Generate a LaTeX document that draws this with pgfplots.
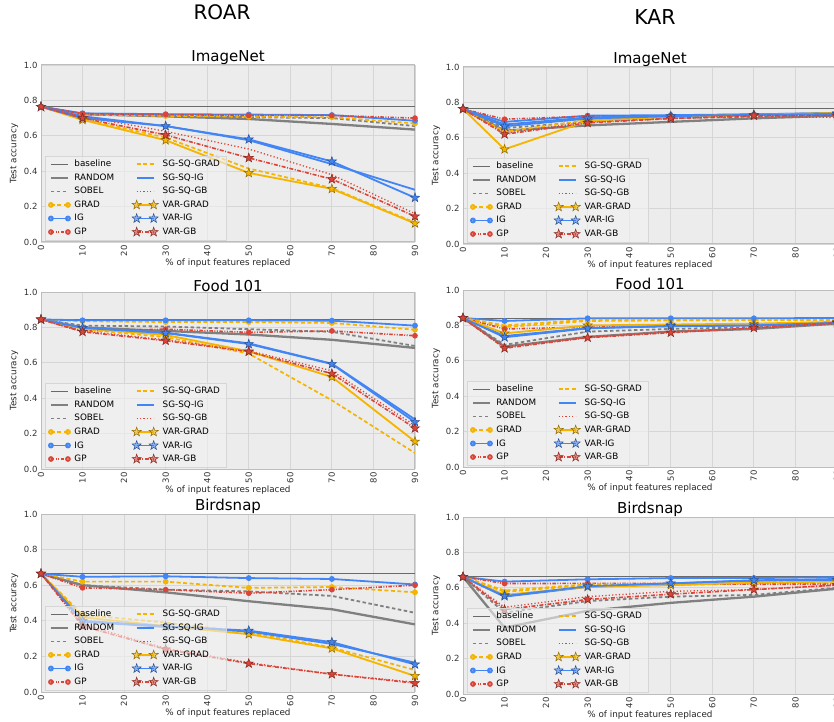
\documentclass[border=0pt]{standalone}
\usepackage{fontspec}
\setmainfont{DejaVu Sans}
\usepackage{pgfplots}
\usepackage{pgfplotstable}
\pgfplotsset{compat=1.18}
\usetikzlibrary{plotmarks}
\definecolor{yc}{HTML}{F4B400}
\definecolor{bc}{HTML}{4285F4}
\definecolor{rc}{HTML}{DB4437}
\definecolor{gc}{HTML}{808080}
\definecolor{basec}{HTML}{6A6A6A}
\definecolor{bgc}{HTML}{ECECEC}
\definecolor{gridc}{HTML}{D6D6D6}
\definecolor{framec}{HTML}{BDBDBD}

\pgfdeclareplotmark{fstar}{%
  \pgfpathmoveto{\pgfqpointpolar{90}{\pgfplotmarksize}}%
  \pgfpathlineto{\pgfqpointpolar{126}{0.4\pgfplotmarksize}}%
  \pgfpathlineto{\pgfqpointpolar{162}{\pgfplotmarksize}}%
  \pgfpathlineto{\pgfqpointpolar{198}{0.4\pgfplotmarksize}}%
  \pgfpathlineto{\pgfqpointpolar{234}{\pgfplotmarksize}}%
  \pgfpathlineto{\pgfqpointpolar{270}{0.4\pgfplotmarksize}}%
  \pgfpathlineto{\pgfqpointpolar{306}{\pgfplotmarksize}}%
  \pgfpathlineto{\pgfqpointpolar{342}{0.4\pgfplotmarksize}}%
  \pgfpathlineto{\pgfqpointpolar{18}{\pgfplotmarksize}}%
  \pgfpathlineto{\pgfqpointpolar{54}{0.4\pgfplotmarksize}}%
  \pgfpathclose
  \pgfusepathqfillstroke}

\pgfplotstableread{
x base rand sobel grad ig gp sggrad sgig sggb vgrad vig vgb
0 0.764 0.764 0.764 0.764 0.764 0.764 0.764 0.764 0.764 0.764 0.764 0.764
10 0.764 0.722 0.720 0.720 0.727 0.725 0.695 0.710 0.710 0.690 0.700 0.700
30 0.764 0.710 0.715 0.712 0.722 0.720 0.590 0.655 0.625 0.575 0.655 0.605
50 0.764 0.695 0.705 0.708 0.720 0.715 0.415 0.575 0.525 0.390 0.580 0.475
70 0.764 0.667 0.700 0.705 0.717 0.715 0.305 0.440 0.380 0.300 0.455 0.355
90 0.764 0.635 0.655 0.670 0.685 0.700 0.110 0.295 0.160 0.105 0.250 0.145
}\inr
\pgfplotstableread{
x base rand sobel grad ig gp sggrad sgig sggb vgrad vig vgb
0 0.763 0.763 0.763 0.763 0.763 0.763 0.763 0.763 0.763 0.763 0.763 0.763
10 0.763 0.640 0.655 0.635 0.690 0.705 0.675 0.675 0.625 0.535 0.665 0.620
30 0.763 0.670 0.690 0.700 0.725 0.722 0.705 0.715 0.690 0.695 0.709 0.684
50 0.763 0.690 0.710 0.718 0.728 0.722 0.720 0.725 0.710 0.720 0.722 0.709
70 0.763 0.710 0.720 0.728 0.733 0.728 0.730 0.732 0.720 0.730 0.730 0.725
90 0.763 0.725 0.730 0.735 0.740 0.730 0.738 0.740 0.715 0.740 0.735 0.725
}\ink
\pgfplotstableread{
x base rand sobel grad ig gp sggrad sgig sggb vgrad vig vgb
0 0.845 0.845 0.845 0.845 0.845 0.845 0.845 0.845 0.845 0.845 0.845 0.845
10 0.845 0.800 0.810 0.835 0.840 0.780 0.790 0.800 0.780 0.795 0.797 0.775
30 0.845 0.780 0.805 0.830 0.840 0.790 0.745 0.770 0.730 0.757 0.768 0.725
50 0.845 0.760 0.790 0.830 0.840 0.772 0.652 0.710 0.668 0.665 0.706 0.663
70 0.845 0.730 0.775 0.825 0.838 0.780 0.388 0.595 0.555 0.520 0.593 0.539
90 0.845 0.684 0.695 0.787 0.810 0.753 0.090 0.280 0.245 0.155 0.265 0.230
}\fdr
\pgfplotstableread{
x base rand sobel grad ig gp sggrad sgig sggb vgrad vig vgb
0 0.842 0.842 0.842 0.842 0.842 0.842 0.842 0.842 0.842 0.842 0.842 0.842
10 0.842 0.680 0.690 0.790 0.825 0.780 0.800 0.740 0.680 0.755 0.733 0.671
30 0.842 0.735 0.765 0.825 0.840 0.790 0.832 0.785 0.735 0.800 0.783 0.731
50 0.842 0.765 0.780 0.828 0.840 0.795 0.832 0.795 0.765 0.805 0.797 0.759
70 0.842 0.780 0.790 0.830 0.840 0.800 0.832 0.800 0.785 0.810 0.800 0.786
90 0.842 0.810 0.815 0.830 0.842 0.815 0.830 0.815 0.810 0.820 0.815 0.815
}\fdk
\pgfplotstableread{
x base rand sobel grad ig gp sggrad sgig sggb vgrad vig vgb
0 0.665 0.665 0.665 0.665 0.665 0.665 0.665 0.665 0.665 0.665 0.665 0.665
10 0.665 0.600 0.600 0.620 0.647 0.585 0.434 0.395 0.380 0.420 0.400 0.370
30 0.665 0.560 0.575 0.620 0.650 0.575 0.390 0.365 0.245 0.370 0.370 0.240
50 0.665 0.510 0.565 0.585 0.640 0.555 0.335 0.340 0.165 0.325 0.345 0.160
70 0.665 0.465 0.540 0.590 0.635 0.575 0.250 0.270 0.100 0.245 0.280 0.100
90 0.665 0.380 0.445 0.560 0.604 0.600 0.123 0.165 0.055 0.090 0.155 0.050
}\bdr
\pgfplotstableread{
x base rand sobel grad ig gp sggrad sgig sggb vgrad vig vgb
0 0.662 0.662 0.662 0.662 0.662 0.662 0.662 0.662 0.662 0.662 0.662 0.662
10 0.662 0.375 0.460 0.577 0.635 0.624 0.585 0.550 0.490 0.560 0.553 0.477
30 0.662 0.470 0.525 0.615 0.648 0.625 0.620 0.605 0.550 0.605 0.609 0.534
50 0.662 0.515 0.550 0.615 0.655 0.625 0.620 0.625 0.580 0.615 0.625 0.564
70 0.662 0.550 0.560 0.625 0.655 0.620 0.630 0.640 0.590 0.630 0.643 0.590
90 0.662 0.595 0.600 0.625 0.660 0.620 0.640 0.650 0.615 0.635 0.645 0.615
}\bdk

\pgfplotsset{
  myax/.style={
    scale only axis, width=374pt, height=177pt,
    xmin=0, xmax=90, ymin=0, ymax=1,
    xtick={0,10,...,90}, ytick={0,0.2,...,1},
    /pgf/number format/assume math mode=true,
    yticklabel style={/pgf/number format/fixed,/pgf/number format/fixed zerofill,/pgf/number format/precision=1},
    tick label style={font=\fontsize{8.5}{10}\selectfont, text=black!80},
    xticklabel style={rotate=90, anchor=east},
    major tick length=0pt,
    axis background/.style={fill=bgc},
    grid=major, grid style={gridc, line width=0.8pt},
    axis line style={framec, line width=1pt},
    title style={font=\fontsize{15}{16}\selectfont, yshift=-9pt},
    xlabel={\% of input features replaced},
    ylabel={Test accuracy},
    label style={font=\fontsize{8.8}{10}\selectfont, text=black!85},
    ylabel style={yshift=-1pt},
    xlabel style={yshift=4pt},
    legend columns=6, transpose legend,
    legend cell align=left,
    legend image code/.code={\draw[#1] plot coordinates {(0pt,0pt) (17pt,0pt)};},
    legend style={at={(0.01,0.01)}, anchor=south west, fill=bgc!70!white, draw=gridc, fill opacity=0.6, text opacity=1,
      font=\fontsize{8.8}{9.5}\selectfont, inner xsep=4pt, inner ysep=2pt, row sep=1.5pt,
      /tikz/every odd column/.append style={column sep=2.5pt},
      /tikz/every even column/.append style={column sep=16pt}},
  },
  bst/.style={draw=basec, line width=0.9pt, no marks},
  rst/.style={draw=gc, line width=2.3pt, no marks},
  sst/.style={draw=gc, line width=1.8pt, dash pattern=on 3.5pt off 2.5pt, no marks},
  gst/.style={draw=yc, line width=1.7pt, dash pattern=on 4pt off 2.5pt, mark=*, mark size=2pt, mark options={solid, fill=yc, draw=yc}},
  ist/.style={draw=bc, line width=1.8pt, mark=*, mark size=2pt, mark options={solid, fill=bc, draw=bc}},
  pst/.style={draw=rc, line width=1.6pt, dash pattern=on 3.5pt off 1.5pt on 1pt off 1.5pt on 1pt off 1.5pt, mark=*, mark size=2pt, mark options={solid, fill=rc, draw=rc}},
  sgst/.style={draw=yc, line width=1.7pt, dash pattern=on 4pt off 2.5pt, no marks},
  sist/.style={draw=bc, line width=1.8pt, no marks},
  sbst/.style={draw=rc, line width=1.3pt, dash pattern=on 1.2pt off 2.2pt, no marks},
  vgst/.style={draw=yc, line width=1.8pt, mark=fstar, mark size=4.8pt, mark options={solid, fill=yc, draw=yc!60!black, line width=0.5pt}},
  vist/.style={draw=bc, line width=1.8pt, mark=fstar, mark size=4.8pt, mark options={solid, fill=bc, draw=bc!60!black, line width=0.5pt}},
  vbst/.style={draw=rc, line width=1.6pt, dash pattern=on 4pt off 1.5pt on 1pt off 1.5pt, mark=fstar, mark size=4.8pt, mark options={solid, fill=rc, draw=rc!60!black, line width=0.5pt}},
}

\newcommand\allplots[1]{%
  \addplot[bst] table[x=x,y=base]{#1}; \addlegendentry{baseline}
  \addplot[rst] table[x=x,y=rand]{#1}; \addlegendentry{RANDOM}
  \addplot[sst] table[x=x,y=sobel]{#1}; \addlegendentry{SOBEL}
  \addplot[gst] table[x=x,y=grad]{#1}; \addlegendentry{GRAD}
  \addplot[ist] table[x=x,y=ig]{#1}; \addlegendentry{IG}
  \addplot[pst] table[x=x,y=gp]{#1}; \addlegendentry{GP}
  \addplot[sgst] table[x=x,y=sggrad]{#1}; \addlegendentry{SG-SQ-GRAD}
  \addplot[sist] table[x=x,y=sgig]{#1}; \addlegendentry{SG-SQ-IG}
  \addplot[sbst] table[x=x,y=sggb]{#1}; \addlegendentry{SG-SQ-GB}
  \addplot[vgst] table[x=x,y=vgrad]{#1}; \addlegendentry{VAR-GRAD}
  \addplot[vist] table[x=x,y=vig]{#1}; \addlegendentry{VAR-IG}
  \addplot[vbst] table[x=x,y=vgb]{#1}; \addlegendentry{VAR-GB}
}

\begin{document}
\begin{tikzpicture}[x=1pt,y=1pt]
\useasboundingbox (0,0) rectangle (834,721);
\node[font=\fontsize{20}{21}\selectfont] at (222,709) {ROAR};
\node[font=\fontsize{20.5}{21}\selectfont] at (655,704) {KAR};

\begin{axis}[myax, at={(41pt,479pt)}, anchor=south west, title={ImageNet}]
\allplots{\inr}
\end{axis}
\begin{axis}[myax, at={(41pt,252pt)}, anchor=south west, title={Food 101}]
\allplots{\fdr}
\end{axis}
\begin{axis}[myax, at={(41pt,29pt)}, anchor=south west, height=178pt, title={Birdsnap}]
\allplots{\bdr}
\end{axis}

\begin{axis}[myax, at={(463pt,477pt)}, anchor=south west, title={ImageNet}]
\allplots{\ink}
\end{axis}
\begin{axis}[myax, at={(463pt,254pt)}, anchor=south west, title={Food 101}]
\allplots{\fdk}
\end{axis}
\begin{axis}[myax, at={(463pt,27pt)}, anchor=south west, title={Birdsnap}]
\allplots{\bdk}
\end{axis}
\end{tikzpicture}
\end{document}
